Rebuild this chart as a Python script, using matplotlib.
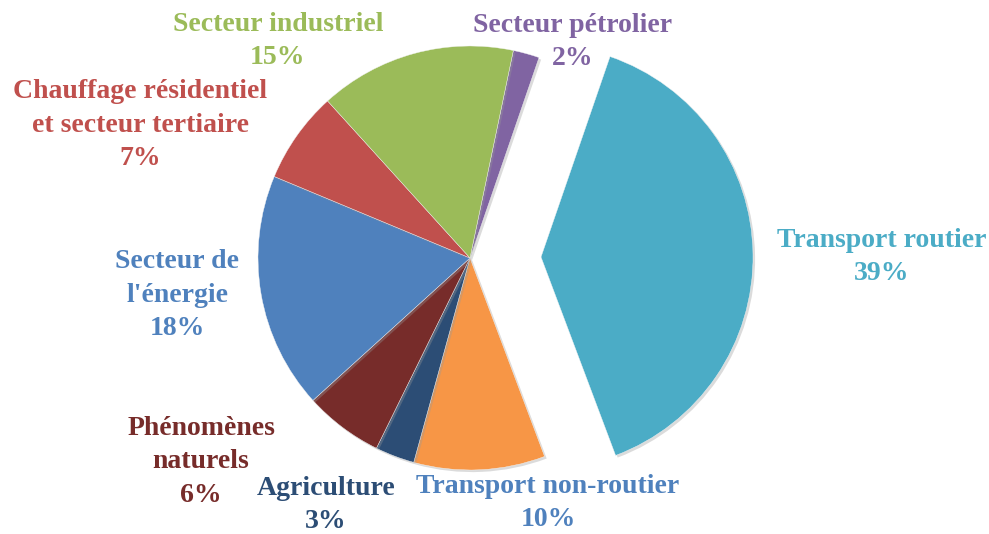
import matplotlib
matplotlib.use("Agg")
from matplotlib import pyplot as plt
from matplotlib import patheffects as pe

# slices, clockwise from the top
labels = [
    "Secteur pétrolier",
    "Transport routier",
    "Transport non-routier",
    "Agriculture",
    "Phénomènes\nnaturels",
    "Secteur de\nl'énergie",
    "Chauffage résidentiel\net secteur tertiaire",
    "Secteur industriel",
]
values = [2, 39, 10, 3, 6, 18, 7, 15]
slice_colors = ["#8064A2", "#4BACC6", "#F79646", "#2C4D75",
                "#772C2A", "#4F81BD", "#C0504D", "#9BBB59"]
label_colors = ["#8064A2", "#4BACC6", "#4F81BD", "#2C4D75",
                "#772C2A", "#4F81BD", "#C0504D", "#9BBB59"]
explode = [0, 0.335, 0, 0, 0, 0, 0, 0]

# label block centres in image pixels (x, y from top)
label_pos = [(573, 42), (882, 257), (548, 503), (326, 505),
             (201, 462), (177, 295), (140, 125), (278, 41)]

W, H = 989, 534
CX, CY, R = 470, 258, 212  # pie centre / radius in pixels


def to_units(px, py):
    return (px - CX) / R, (CY - py) / R


fig = plt.figure(figsize=(W / 100, H / 100), dpi=100)
ax = fig.add_axes([0, 0, 1, 1])

wedges, _ = ax.pie(
    values,
    colors=slice_colors,
    explode=explode,
    startangle=78.2,
    counterclock=False,
    radius=1,
    wedgeprops=dict(edgecolor="#f4f4f4", linewidth=0.3),
)
for w in wedges:
    w.set_path_effects([
        pe.SimplePatchShadow(offset=(1.5, -1.5), shadow_rgbFace="#999999", alpha=0.35),
        pe.Normal(),
    ])

for lab, val, col, (px, py) in zip(labels, values, label_colors, label_pos):
    x, y = to_units(px, py)
    ax.text(x, y, f"{lab}\n{val}%", ha="center", va="center", color=col,
            fontsize=20, fontweight="bold", family="Liberation Serif",
            linespacing=1.45)

ax.set_xlim(-CX / R, (W - CX) / R)
ax.set_ylim(-(H - CY) / R, CY / R)
ax.set_aspect("equal")
ax.axis("off")

fig.savefig("out.png", dpi=100)
